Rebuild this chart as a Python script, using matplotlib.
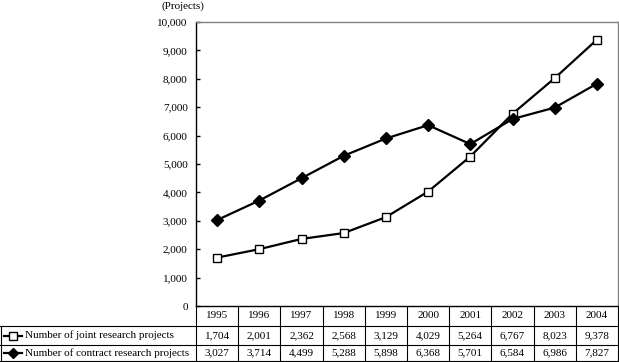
import matplotlib
matplotlib.use("Agg")
import matplotlib.pyplot as plt
import matplotlib.transforms as mtransforms
from matplotlib.lines import Line2D

years = ["1995", "1996", "1997", "1998", "1999", "2000", "2001", "2002", "2003", "2004"]
joint = [1704, 2001, 2362, 2568, 3129, 4029, 5264, 6767, 8023, 9378]
contract = [3027, 3714, 4499, 5288, 5898, 6368, 5701, 6584, 6986, 7827]
series_names = ["Number of joint research projects", "Number of contract research projects"]
yticks = list(range(0, 10001, 1000))

plt.rcParams["font.family"] = ["Liberation Serif", "DejaVu Serif"]
plt.rcParams["font.size"] = 8

W, H = 619, 362
fig = plt.figure(figsize=(W / 100, H / 100), dpi=100)

# plot area in pixels
x0, x1 = 196, 618
ytop, ybot = 22, 306
ax = fig.add_axes([x0 / W, 1 - ybot / H, (x1 - x0) / W, (ybot - ytop) / H])

xs = range(len(years))
ax.plot(xs, joint, color="black", lw=1.6, marker="s", ms=6, mfc="white", mec="black", mew=1, zorder=3)
ax.plot(xs, contract, color="black", lw=1.6, marker="D", ms=6, mfc="black", mec="black", zorder=3)

ax.set_xlim(-0.5, len(years) - 0.5)
ax.set_ylim(0, 10000)
ax.set_yticks(yticks)
ax.set_yticklabels([f"{v:,}" for v in yticks])
ax.set_xticks([])
ax.tick_params(axis="y", direction="in", length=3, width=1, pad=6)
for s in ["top", "right"]:
    ax.spines[s].set_color("#808080")
    ax.spines[s].set_linewidth(1)
ax.spines["left"].set_linewidth(1)
ax.spines["bottom"].set_linewidth(1)

fig.text(183 / W, 1 - 6 / H, "(Projects)", ha="center", va="center")

# table under the plot: x in data coords of ax, y in figure pixels (from top)
def ypx(p):
    return 1 - p / H

bt = mtransforms.blended_transform_factory(ax.transData, fig.transFigure)
rows = [306, 326, 345, 361]
lw = 0.8

# horizontal lines
for r in rows[1:]:
    left = 0 if r != rows[0] else x0
    fig.add_artist(Line2D([0, x1 / W], [ypx(r), ypx(r)], color="black", lw=lw))
# vertical lines between columns
for i in range(len(years) + 1):
    fig.add_artist(Line2D([i - 0.5, i - 0.5], [ypx(rows[0]), ypx(rows[-1])], color="black", lw=lw, transform=bt))
fig.add_artist(Line2D([0.8 / W, 0.8 / W], [ypx(rows[1]), ypx(rows[-1])], color="black", lw=lw))

def mid(a, b):
    return ypx((a + b) / 2)

for i, y in enumerate(years):
    fig.text(i, mid(rows[0], rows[1]), y, ha="center", va="center", transform=bt)
for i, v in enumerate(joint):
    fig.text(i, mid(rows[1], rows[2]), f"{v:,}", ha="center", va="center", transform=bt)
for i, v in enumerate(contract):
    fig.text(i, mid(rows[2], rows[3]), f"{v:,}", ha="center", va="center", transform=bt)

# legend keys in label column
for k, (name, mk, fc) in enumerate(zip(series_names, ["s", "D"], ["white", "black"])):
    yy = mid(rows[k + 1], rows[k + 2])
    fig.add_artist(Line2D([4 / W, 22 / W], [yy, yy], color="black", lw=1.6))
    fig.add_artist(Line2D([13 / W], [yy], marker=mk, ms=5.5, mfc=fc, mec="black", mew=1, color="black"))
    fig.text(25 / W, yy, name, ha="left", va="center")

fig.savefig("out.png", dpi=100)
